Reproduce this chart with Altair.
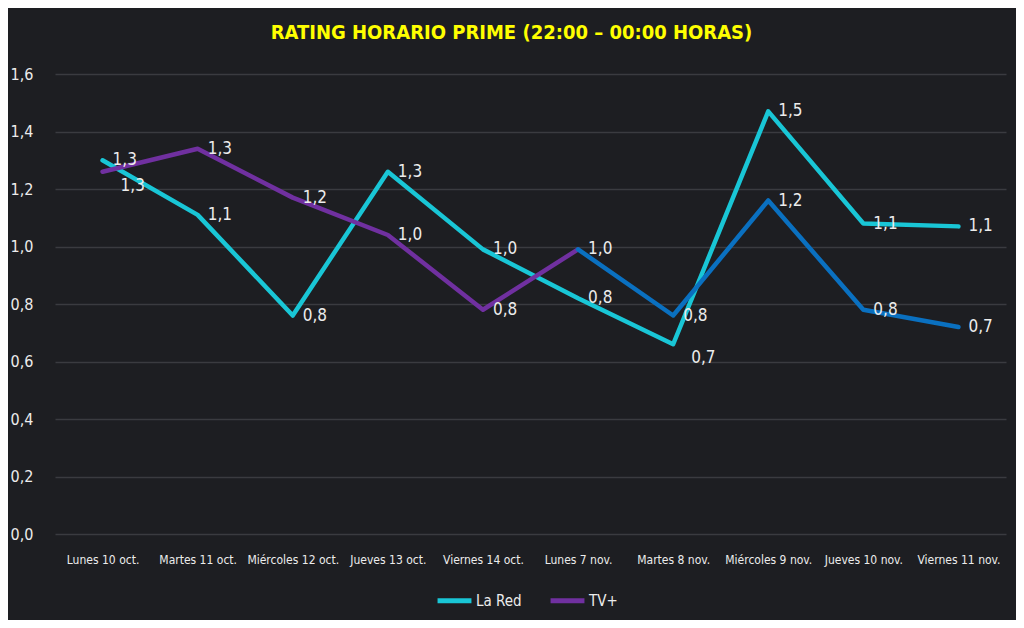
import altair as alt
import pandas as pd

# ---- data ----
dias = ["Lunes 10 oct.", "Martes 11 oct.", "Miércoles 12 oct.", "Jueves 13 oct.",
        "Viernes 14 oct.", "Lunes 7 nov.", "Martes 8 nov.", "Miércoles 9 nov.",
        "Jueves 10 nov.", "Viernes 11 nov."]
la_red = [1.30, 1.11, 0.76, 1.26, 0.99, 0.82, 0.66, 1.47, 1.08, 1.07]
tv_plus = [1.26, 1.34, 1.17, 1.04, 0.78, 0.99, 0.76, 1.16, 0.78, 0.72]
series = ["La Red", "TV+"]
y_ticks = [0.0, 0.2, 0.4, 0.6, 0.8, 1.0, 1.2, 1.4, 1.6]
titulo = "RATING HORARIO PRIME (22:00 – 00:00 HORAS)"

FONT = "DejaVu Sans Condensed, DejaVu Sans, sans-serif"
CYAN = "#19c6d6"
PURPLE = "#7030a0"
BLUE = "#0a70c0"
TXT = "#ececec"

rows = []
for i, d in enumerate(dias):
    rows.append({"dia": d, "idx": i, "serie": series[0], "rating": la_red[i]})
    rows.append({"dia": d, "idx": i, "serie": series[1], "rating": tv_plus[i]})
df = pd.DataFrame(rows)

x_enc = alt.X("dia:N", sort=dias, scale=alt.Scale(type="point", padding=0.5),
              axis=alt.Axis(title=None, labelAngle=0, ticks=False, domain=False,
                            labelColor=TXT, labelFont=FONT, labelFontSize=12,
                            labelPadding=20, labelOverlap=False, grid=False))
y_enc = alt.Y("rating:Q", scale=alt.Scale(domain=[0, 1.6], nice=False, zero=True),
              axis=alt.Axis(title=None, values=y_ticks, ticks=False, domain=False,
                            labelExpr="replace(format(datum.value, '.1f'), '.', ',')",
                            labelColor=TXT, labelFont=FONT, labelFontSize=16,
                            labelPadding=22, gridColor="#3a3b40", gridWidth=1.5))

base = alt.Chart(df)

lines_main = base.transform_filter(
    "datum.serie == 'La Red' || datum.idx <= 5"
).mark_line(strokeWidth=4.5, strokeCap="round", strokeJoin="round").encode(
    x=x_enc, y=y_enc,
    color=alt.Color("serie:N", scale=alt.Scale(domain=series, range=[CYAN, PURPLE]),
                    legend=alt.Legend(title=None, orient="none", legendX=380, legendY=507,
                                      direction="horizontal", symbolType="stroke",
                                      symbolSize=1150, symbolStrokeWidth=5,
                                      labelColor=TXT, labelFont=FONT, labelFontSize=15,
                                      labelOffset=2, columnPadding=18)),
    detail="serie:N",
)

lines_blue = base.transform_filter(
    "datum.serie == 'TV+' && datum.idx >= 5"
).mark_line(strokeWidth=4.5, strokeCap="round", strokeJoin="round", color=BLUE).encode(
    x=x_enc, y=y_enc,
)

below = "(datum.serie == 'TV+' && datum.idx == 0) || (datum.serie == 'La Red' && datum.idx == 6)"

labels = base.transform_calculate(
    label="replace(format(datum.rating, '.1f'), '.', ',')"
).transform_filter("!(" + below + ")").mark_text(
    align="left", baseline="middle", dx=10, fontSize=17, font=FONT, color=TXT
).encode(x=x_enc, y=y_enc, text="label:N")

labels_below = base.transform_calculate(
    label="replace(format(datum.rating, '.1f'), '.', ',')"
).transform_filter(below).mark_text(
    align="left", baseline="middle", dx=18, dy=14, fontSize=17, font=FONT, color=TXT
).encode(x=x_enc, y=y_enc, text="label:N")

chart = alt.layer(lines_main, lines_blue, labels, labels_below).properties(
    width=951, height=460,
    title=alt.Title(titulo, color="#ffff00", fontSize=20, font=FONT,
                    fontWeight="bold", anchor="middle", dx=-19, offset=23),
    autosize=alt.AutoSizeParams(type="none"),
    padding={"left": 47, "top": 66, "right": 10, "bottom": 86},
    background="#1d1e22",
).configure_view(stroke=None)

chart.save("out.html", embed_options={"renderer": "svg", "actions": False})
